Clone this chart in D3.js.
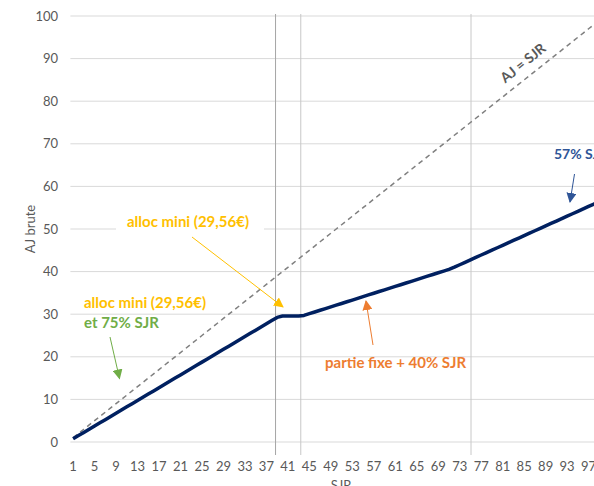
<!DOCTYPE html>
<html><head><meta charset="utf-8">
<script src="https://cdn.jsdelivr.net/npm/d3@7"></script>
<style>html,body{margin:0;padding:0;background:#fff;overflow:hidden}</style>
</head><body>
<svg id="c" width="594" height="486"></svg>
<script>
// ---- data ----
const categories = d3.range(1, 101);
const ajBrute = [
 0.75,1.5,2.25,3,3.75,4.5,5.25,6,6.75,7.5,
 8.25,9,9.75,10.5,11.25,12,12.75,13.5,14.25,15,
 15.75,16.5,17.25,18,18.75,19.5,20.25,21,21.75,22.5,
 23.25,24,24.75,25.5,26.25,27,27.75,28.5,29.25,29.56,
 29.56,29.56,29.56,29.72,30.12,30.52,30.92,31.32,31.72,32.12,
 32.52,32.92,33.32,33.72,34.12,34.52,34.92,35.32,35.72,36.12,
 36.52,36.92,37.32,37.72,38.12,38.52,38.92,39.32,39.72,40.12,
 40.52,41.04,41.61,42.18,42.75,43.32,43.89,44.46,45.03,45.6,
 46.17,46.74,47.31,47.88,48.45,49.02,49.59,50.16,50.73,51.3,
 51.87,52.44,53.01,53.58,54.15,54.72,55.29,55.86,56.43,57
];
const ajEqualSjr = categories.slice();
const xTickLabels = d3.range(1, 101, 4);
const yTicks = d3.range(0, 101, 10);
const thresholds = [38.7, 43.4, 75.1];

// ---- layout ----
const svg = d3.select('#c');
const pLeft = 70.4, bw = 5.37, pTop = 16, pBottom = 442;
const x = d3.scaleBand().domain(categories).range([pLeft, pLeft + categories.length * bw]).paddingInner(0).paddingOuter(0);
const xc = d => x(d) + x.bandwidth() / 2;
const xLin = d3.scaleLinear().domain([0.5, categories.length + 0.5]).range([pLeft, pLeft + categories.length * bw]);
const y = d3.scaleLinear().domain([0, 100]).range([pBottom, pTop]);
const font = 'Lato, "Noto Sans", sans-serif';

// gridlines
svg.append('g').selectAll('line').data(yTicks).join('line')
  .attr('x1', pLeft).attr('x2', 620).attr('y1', d => y(d)).attr('y2', d => y(d))
  .attr('stroke', '#d9d9d9').attr('stroke-width', 1);

// y labels
svg.append('g').selectAll('text').data(yTicks).join('text')
  .attr('x', 58).attr('y', d => y(d)).attr('dy', '0.35em').attr('text-anchor', 'end')
  .attr('font-family', font).attr('font-size', 13).attr('fill', '#595959').text(d => d);

// x labels
svg.append('g').selectAll('text').data(xTickLabels).join('text')
  .attr('x', d => xc(d)).attr('y', 466).attr('dy', '0.35em').attr('text-anchor', 'middle')
  .attr('font-family', font).attr('font-size', 13).attr('fill', '#595959').text(d => d);

// threshold vertical lines
svg.append('g').selectAll('line').data(thresholds).join('line')
  .attr('x1', d => xLin(d)).attr('x2', d => xLin(d)).attr('y1', pTop - 2).attr('y2', 455)
  .attr('stroke', (d, i) => i === 0 ? '#a6a6a6' : '#c8c8c8').attr('stroke-width', 1);

// axis titles
svg.append('text').attr('transform', 'translate(30,229) rotate(-90)').attr('text-anchor', 'middle')
  .attr('dy', '0.35em').attr('font-family', font).attr('font-size', 13).attr('fill', '#595959').text('AJ brute');
svg.append('text').attr('x', 341).attr('y', 490).attr('text-anchor', 'middle')
  .attr('font-family', font).attr('font-size', 13).attr('fill', '#595959').text('SJR');

// dashed AJ = SJR
svg.append('path').datum(categories)
  .attr('d', d3.line().x(d => xc(d)).y((d, i) => y(ajEqualSjr[i])))
  .attr('fill', 'none').attr('stroke', '#808080').attr('stroke-width', 1.5).attr('stroke-dasharray', '5,4');

// main line
svg.append('path').datum(categories)
  .attr('d', d3.line().x(d => xc(d)).y((d, i) => y(ajBrute[i])))
  .attr('fill', 'none').attr('stroke', '#002060').attr('stroke-width', 3.5).attr('stroke-linejoin', 'round');

// ---- annotations ----
const defs = svg.append('defs');
function marker(id, color) {
  defs.append('marker').attr('id', id).attr('viewBox', '0 0 10 10').attr('refX', 9).attr('refY', 5)
    .attr('markerWidth', 10).attr('markerHeight', 10).attr('markerUnits', 'userSpaceOnUse').attr('orient', 'auto')
    .append('path').attr('d', 'M0,0 L10,5 L0,10 Z').attr('fill', color);
}
marker('mGold', '#ffc000'); marker('mGreen', '#70ad47'); marker('mOrange', '#ed7d31'); marker('mBlue', '#2f5597');
function arrow(x1, y1, x2, y2, color, m) {
  svg.append('line').attr('x1', x1).attr('y1', y1).attr('x2', x2).attr('y2', y2)
    .attr('stroke', color).attr('stroke-width', 1).attr('marker-end', `url(#${m})`);
}
function label(tx, ty, t, color, anchor, fs) {
  return svg.append('text').attr('x', tx).attr('y', ty).attr('dy', '0.35em').attr('text-anchor', anchor || 'start')
    .attr('font-family', font).attr('font-size', fs || 15).attr('font-weight', 'bold').attr('fill', color).text(t);
}

// top gold label with white background
svg.append('rect').attr('x', 116).attr('y', 211).attr('width', 148).attr('height', 22).attr('fill', '#fff');
label(188, 222, 'alloc mini (29,56€)', '#ffc000', 'middle');
arrow(192, 237, 283, 307, '#ffc000', 'mGold');

// left labels
label(84, 303, 'alloc mini (29,56€)', '#ffc000');
label(84, 323, 'et 75% SJR', '#70ad47');
arrow(110, 337, 119.5, 378.5, '#70ad47', 'mGreen');

// orange
label(325, 362.5, 'partie fixe + 40% SJR', '#ed7d31');
arrow(373, 345, 366, 301, '#ed7d31', 'mOrange');

// blue
label(554, 154.5, '57% SJR', '#2f5597', 'start', 14);
arrow(574.5, 174, 570, 202, '#2f5597', 'mBlue');

// AJ = SJR rotated
svg.append('text').attr('transform', 'translate(523,63) rotate(-39)').attr('text-anchor', 'middle').attr('dy', '0.35em')
  .attr('font-family', font).attr('font-size', 14).attr('font-weight', 'bold').attr('fill', '#595959').text('AJ = SJR');
</script>
</body></html>
